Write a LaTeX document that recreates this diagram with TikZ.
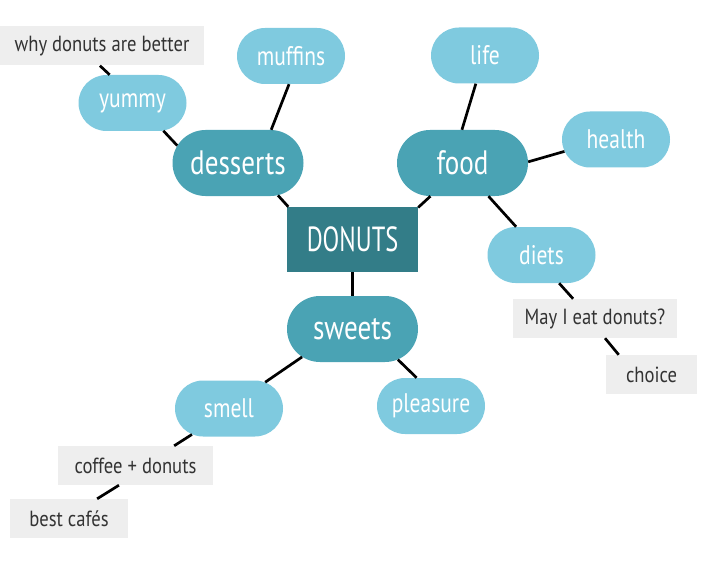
\documentclass[tikz,border=0pt]{standalone}
\usepackage{fontspec}
\setmainfont[FakeStretch=0.8]{PT Sans}
\newfontfamily\hubfont[FakeStretch=0.7]{PT Sans}
\newfontfamily\notefont[FakeStretch=0.85]{PT Sans}
\usetikzlibrary{shapes.misc}
\definecolor{donutdark}{RGB}{51,125,136}
\definecolor{donutmid}{RGB}{74,163,180}
\definecolor{donutlight}{RGB}{127,202,223}
\definecolor{notegray}{RGB}{238,238,238}
\definecolor{notetext}{RGB}{51,51,51}
\tikzset{
  hub/.style={rectangle, fill=donutdark, text=white, inner sep=0pt,
    minimum width=131bp, minimum height=65bp, font=\hubfont\fontsize{35}{35}\selectfont},
  topic/.style={rounded rectangle, fill=donutmid, text=white, inner sep=0pt,
    minimum width=131bp, minimum height=66bp, font=\fontsize{34}{34}\selectfont},
  idea/.style={rounded rectangle, fill=donutlight, text=white, inner sep=0pt,
    minimum width=108bp, minimum height=56bp, font=\fontsize{27}{27}\selectfont},
  note/.style={rectangle, fill=notegray, text=notetext, inner sep=0pt,
    minimum height=39bp, font=\notefont\fontsize{22}{22}\selectfont},
  link/.style={line width=2.7bp, black}
}
\begin{document}
\begin{tikzpicture}[x=1bp,y=-1bp]
  \useasboundingbox (0,0) rectangle (705,564);
  % centre
  \node[hub] (donuts) at (352.5,239.5) {DONUTS};
  % main topics
  \node[topic] (desserts) at (238,163) {desserts};
  \node[topic] (food) at (462.5,163) {food};
  \node[topic] (sweets) at (352.5,329) {sweets};
  % ideas
  \node[idea] (muffins) at (291,56) {muffins};
  \node[idea] (yummy) at (132.5,103) {yummy};
  \node[idea] (life) at (485,55.5) {life};
  \node[idea] (health) at (616,139.5) {health};
  \node[idea] (diets) at (541.5,255) {diets};
  \node[idea] (smell) at (229,408.5) {smell};
  \node[idea] (pleasure) at (431,406) {pleasure};
  % notes
  \node[note, minimum width=204bp] (why) at (102,46) {why donuts are better};
  \node[note, minimum width=164bp] (mayi) at (595,318.5) {May I eat donuts?};
  \node[note, minimum width=91bp] (choice) at (651.5,374.5) {choice};
  \node[note, minimum width=155bp] (coffee) at (135.5,465.5) {coffee + donuts};
  \node[note, minimum width=118bp] (cafes) at (69,518.5) {best cafés};
  % links
  \draw[link] (why.-96) -- (yummy.129);
  \draw[link] (yummy.-42) -- (desserts.164);
  \draw[link] (muffins.-94) -- (desserts.45);
  \draw[link] (desserts.-39) -- (donuts.153);
  \draw[link] (food.-134) -- (donuts.26);
  \draw[link] (donuts.south) -- (sweets.north);
  \draw[link] (food.91) -- (life.-108);
  \draw[link] (food.1) -- (health.-167);
  \draw[link] (food.-52) -- (diets.132);
  \draw[link] (diets.-58) -- (mayi.138);
  \draw[link] (mayi.-63) -- (choice.149);
  \draw[link] (sweets.-151) -- (smell.36);
  \draw[link] (sweets.-34) -- (pleasure.117);
  \draw[link] (smell.-145) -- (coffee.27);
  \draw[link] (coffee.-130) -- (cafes.35);
\end{tikzpicture}
\end{document}
